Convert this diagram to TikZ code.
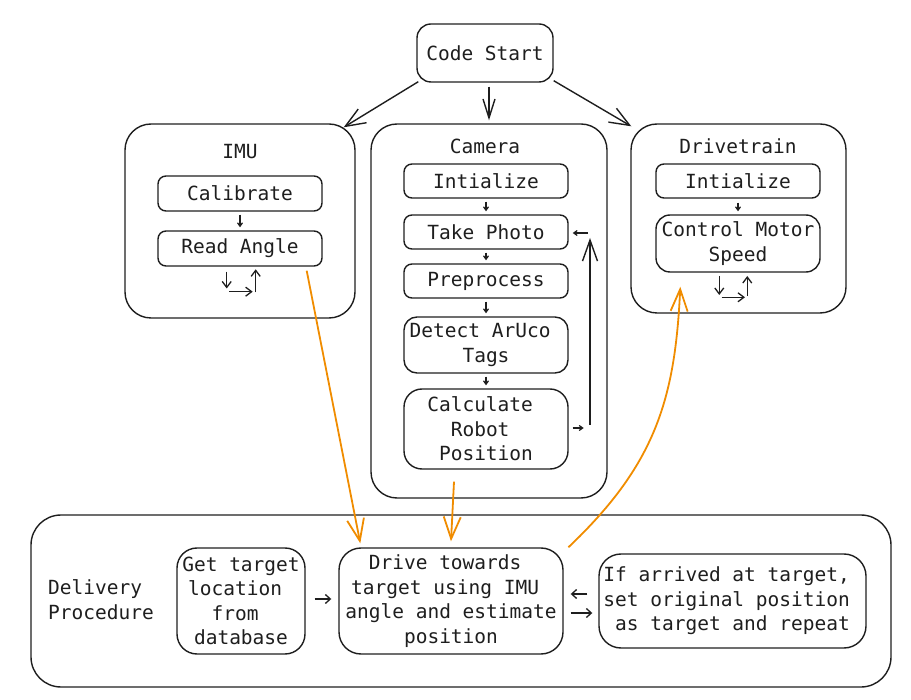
\documentclass[tikz,border=0pt]{standalone}
\usepackage{fontspec}
\newfontfamily\monofont{DejaVu Sans Mono}
\usetikzlibrary{arrows.meta,calc}
\definecolor{ink}{HTML}{1E1E1E}
\definecolor{orng}{HTML}{F08C00}
\begin{document}
\begin{tikzpicture}[x=1pt,y=-1pt,
  every node/.style={font=\monofont\fontsize{19.5}{24.5}\selectfont, text=ink, inner sep=0pt, align=center},
  bx/.style={draw=ink, line width=1.4pt},
  cont/.style={bx, rounded corners=26pt},
  sbox/.style={bx, rounded corners=8pt, minimum width=164pt, minimum height=34pt},
  ttl/.style={},
  sarr/.style={draw=ink, line width=1.2pt, -{Straight Barb[length=3.5pt,width=5pt]}},
  marr/.style={draw=ink, line width=1.3pt, -{Straight Barb[length=5pt,width=9pt]}},
  larr/.style={draw=ink, line width=1.3pt, -{Straight Barb[length=6pt,width=9pt]}},
  barr/.style={draw=ink, line width=1.4pt, -{Straight Barb[length=21pt,width=15pt]}},
  oarr/.style={draw=orng, line width=1.8pt, -{Straight Barb[length=22pt,width=17pt]}}
]
\useasboundingbox (0,0) rectangle (911,700);

% Code start
\node[bx, rounded corners=14pt, minimum width=136pt, minimum height=58pt] (cs) at (485,53) {Code Start};

% IMU
\node[cont, minimum width=230pt, minimum height=194pt] (imu) at (240,221) {};
\node[ttl] (imut) at (240,152) {IMU};
\node[sbox, minimum height=35pt] (cal) at (240,193.5) {Calibrate};
\node[sbox, minimum height=35pt] (rda) at (240,248.5) {Read Angle};
\draw[sarr, shorten <=3pt, shorten >=3pt] (cal) -- (rda);
\coordinate (ia1) at (226.7,271.7); \coordinate (ia2) at (226.7,288.5);
\coordinate (ib1) at (229.3,291.7); \coordinate (ib2) at (252.7,291.7);
\coordinate (ic1) at (255.7,292.5); \coordinate (ic2) at (255.7,269.3);
\draw[larr] (ia1) -- (ia2);
\draw[larr] (ib1) -- (ib2);
\draw[larr] (ic1) -- (ic2);

% Camera
\node[cont, minimum width=236pt, minimum height=374pt] (cam) at (489,311) {};
\node[ttl] (camt) at (485,146) {Camera};
\node[sbox] (cini) at (486,181) {Intialize};
\node[sbox] (ctp) at (486,232) {Take Photo};
\node[sbox] (cpp) at (486,281) {Preprocess};
\node[sbox, rounded corners=13pt, minimum height=56pt] (cdt) at (486,345) {Detect ArUco\hphantom{x}\\Tags};
\node[sbox, rounded corners=18pt, minimum height=80pt] (ccr) at (486,429) {Calculate\hphantom{x}\\Robot\hphantom{x}\\Position};
\draw[sarr, shorten <=3pt, shorten >=3pt] (cini) -- (ctp);
\draw[sarr, shorten <=3pt, shorten >=3pt] (ctp) -- (cpp);
\draw[sarr, shorten <=3pt, shorten >=3pt] (cpp) -- (cdt);
\draw[sarr, shorten <=3pt, shorten >=3pt] (cdt) -- (ccr);
\coordinate (lpb) at (590,425);
\coordinate (lpt) at (590,238);
\draw[sarr] ($(ccr.east)+(4,-1)$) -- ($(ccr.east)+(15,-1)$);
\draw[barr] (lpb) -- (lpt);
\draw[sarr] ($(lpt)+(-2,-5)$) -- ($(ctp.east)+(4,1)$);

% Drivetrain
\node[cont, minimum width=215pt, minimum height=189pt] (dt) at (738.5,218.5) {};
\node[ttl] (dtt) at (738,146) {Drivetrain};
\node[sbox] (dini) at (738,181) {Intialize};
\node[sbox, rounded corners=14pt, minimum height=57pt] (dcm) at (738,243.5) {Control Motor\\Speed};
\draw[sarr, shorten <=4pt, shorten >=3pt] (dini) -- (dcm);
\coordinate (da1) at (719.3,276); \coordinate (da2) at (719.3,295);
\coordinate (db1) at (721.7,297.3); \coordinate (db2) at (745,297.3);
\coordinate (dc1) at (747.3,296); \coordinate (dc2) at (747.3,276);
\draw[larr] (da1) -- (da2);
\draw[larr] (db1) -- (db2);
\draw[larr] (dc1) -- (dc2);

% Code start arrows
\draw[barr, -{Straight Barb[length=20pt,width=16pt]}] ($(cs.south west)+(2,-1)$) -- ($(imu.north east)+(-12,4)$);
\draw[barr, -{Straight Barb[length=19pt,width=12pt]}] ($(cs.south)+(4,4)$) -- ($(cam.north)+(0,-3)$);
\draw[barr, -{Straight Barb[length=20pt,width=16pt]}] ($(cs.south east)+(0,-2)$) -- ($(dt.north west)+(1,3)$);

% Delivery
\node[cont, rounded corners=30pt, minimum width=860pt, minimum height=172pt] (del) at (461,601) {};
\node[anchor=west, align=left] (delt) at (48,599.5) {Delivery\\Procedure};
\node[bx, rounded corners=20pt, minimum width=128pt, minimum height=106pt] (gt) at (241,601) {Get target\\location\hphantom{x}\\from\hphantom{x}\\database};
\node[bx, rounded corners=22pt, minimum width=224pt, minimum height=106pt] (drv) at (451,601) {Drive towards\hphantom{x}\\target using IMU\hphantom{x}\\angle and estimate\\position};
\node[bx, rounded corners=22pt, minimum width=267pt, minimum height=94pt] (ifa) at (732.5,601) {If arrived at target,\hphantom{x}\\set original position\hphantom{x}\\as target and repeat};
\draw[marr] ($(gt.east)+(9,-2)$) -- ($(drv.west)+(-7,-2)$);
\draw[marr] ($(ifa.west)+(-11,-7)$) -- ($(drv.east)+(7,-7)$);
\draw[marr] ($(drv.east)+(7,12)$) -- ($(ifa.west)+(-6,12)$);

% Orange arrows
\draw[oarr] ($(rda.south east)+(-16,4)$) -- ($(drv.north west)+(22,-4)$);
\draw[oarr] ($(cam.south)+(-35,-17)$) -- ($(drv.north)+(0,-6)$);
\draw[oarr] ($(drv.north east)+(4.7,0)$) .. controls (655,465) and (675,400) .. ($(dcm.south west)+(25,14)$);
\end{tikzpicture}
\end{document}
